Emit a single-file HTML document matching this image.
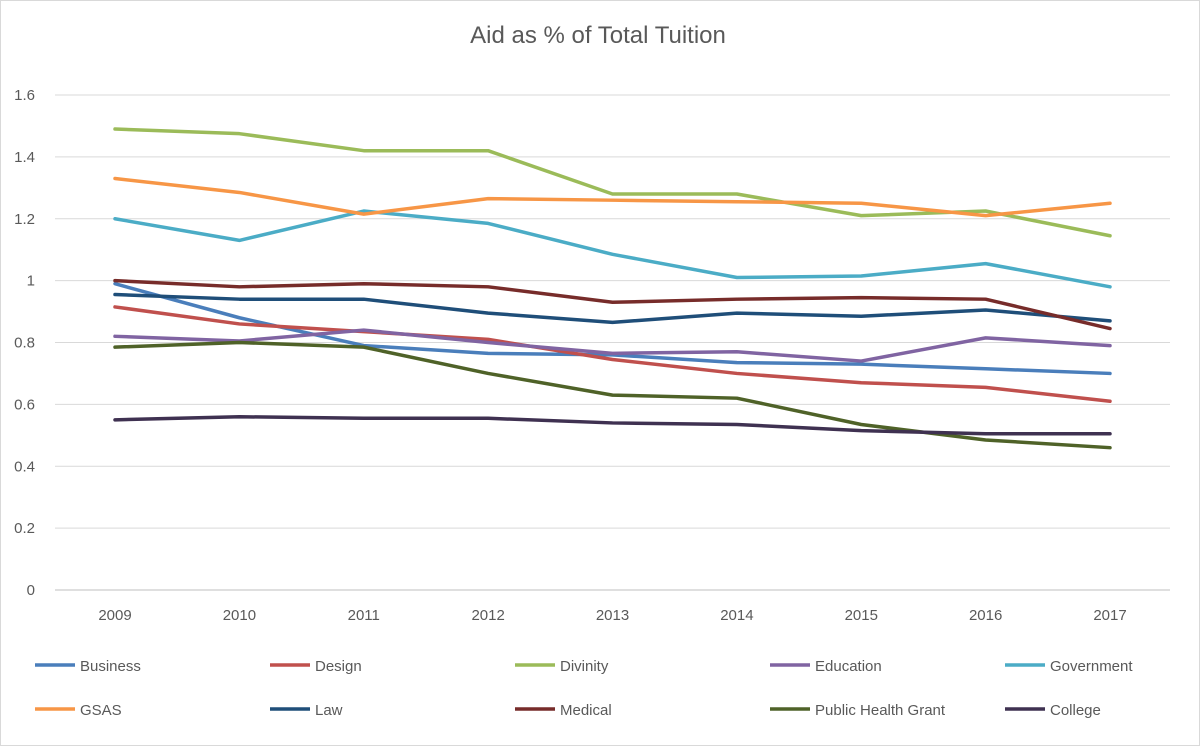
<!DOCTYPE html>
<html><head><meta charset="utf-8">
<style>
html,body{margin:0;padding:0;background:#fff;}
svg{display:block;font-family:"Liberation Sans",sans-serif;}
</style></head>
<body>
<svg id="chart" width="1200" height="746">
<rect x="0.5" y="0.5" width="1199" height="745" fill="#fff" stroke="#d9d9d9"/>
<text x="598" y="43" text-anchor="middle" font-size="24" fill="#595959">Aid as % of Total Tuition</text>
<g id="grid"></g><g id="series"></g><g id="legend"></g>
</svg>
<script>
const years = ["2009","2010","2011","2012","2013","2014","2015","2016","2017"];
const yTicks = [0,0.2,0.4,0.6,0.8,1,1.2,1.4,1.6];
const seriesNames = ["Business","Design","Divinity","Education","Government","GSAS","Law","Medical","Public Health  Grant","College"];
const seriesColors = ["#4a7ebb","#c0504d","#9bbb59","#8064a2","#4bacc6","#f79646","#1f4e79","#772c2a","#4f6228","#3f3151"];
const business = [0.99,0.88,0.79,0.765,0.76,0.735,0.73,0.715,0.70];
const design = [0.915,0.86,0.835,0.81,0.745,0.70,0.67,0.655,0.61];
const divinity = [1.49,1.475,1.42,1.42,1.28,1.28,1.21,1.225,1.145];
const education = [0.82,0.805,0.84,0.80,0.765,0.77,0.74,0.815,0.79];
const government = [1.20,1.13,1.225,1.185,1.085,1.01,1.015,1.055,0.98];
const gsas = [1.33,1.285,1.215,1.265,1.26,1.255,1.25,1.21,1.25];
const law = [0.955,0.94,0.94,0.895,0.865,0.895,0.885,0.905,0.87];
const medical = [1.00,0.98,0.99,0.98,0.93,0.94,0.945,0.94,0.845];
const publicHealth = [0.785,0.80,0.785,0.70,0.63,0.62,0.535,0.485,0.46];
const college = [0.55,0.56,0.555,0.555,0.54,0.535,0.515,0.505,0.505];
const allSeries = [business,design,divinity,education,government,gsas,law,medical,publicHealth,college];

const NS="http://www.w3.org/2000/svg";
const x0=115, x1=1110, yBase=590, yTop=95, yMax=1.6;
const xs = i => x0 + i*(x1-x0)/(years.length-1);
const ys = v => yBase - v/yMax*(yBase-yTop);
function mk(tag, attrs, parent){const e=document.createElementNS(NS,tag);for(const k in attrs)e.setAttribute(k,attrs[k]);parent.appendChild(e);return e;}

const grid=document.getElementById('grid');
yTicks.forEach(t=>{
  const l=mk('line',{x1:55,x2:1170,y1:ys(t),y2:ys(t),stroke:t===0?'#bfbfbf':'#d9d9d9','stroke-width':1},grid);
  
  
  const tx=mk('text',{x:35,y:ys(t)+5,'text-anchor':'end','font-size':15,fill:'#595959'},grid);
  tx.textContent=String(t);
  
  
});
years.forEach((y,i)=>{
  const tx=mk('text',{x:xs(i),y:620,'text-anchor':'middle','font-size':15,fill:'#595959'},grid);
  tx.textContent=y;
  
  
});

const sg=document.getElementById('series');
allSeries.forEach((s,k)=>{
  const p=mk('polyline',{points:s.map((v,i)=>xs(i)+','+ys(v)).join(' '),fill:'none',stroke:seriesColors[k],'stroke-width':3.5,'stroke-linejoin':'round','stroke-linecap':'round'},sg);
  
  
});

const lg=document.getElementById('legend');
const colX=[35,270,515,770,1005];
seriesNames.forEach((n,k)=>{
  const cx=colX[k%5], cy=k<5?665:709;
  const g=mk('g',{},lg);
  
  
  mk('line',{x1:cx,x2:cx+40,y1:cy,y2:cy,stroke:seriesColors[k],'stroke-width':3.5},g);
  const t=mk('text',{x:cx+45,y:cy+6,'font-size':15,fill:'#595959'},g);
  t.textContent=n;
  t.setAttribute('xml:space','preserve');
});
</script>
</body></html>
